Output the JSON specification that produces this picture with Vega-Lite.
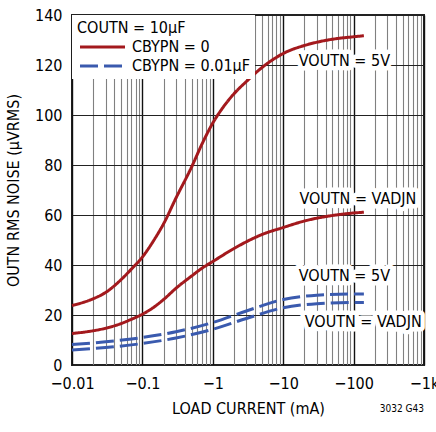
{
  "$schema": "https://vega.github.io/schema/vega-lite/v6.json",
  "width": 352,
  "height": 350,
  "autosize": {"type": "none"},
  "padding": {"left": 72, "top": 15, "right": 12, "bottom": 67},
  "background": "white",
  "config": {
    "font": "DejaVu Sans Condensed, sans-serif",
    "view": {"stroke": "#222", "strokeWidth": 2}
  },
  "title": {"text": "3032 G43", "orient": "bottom", "anchor": "end", "frame": "group", "fontSize": 10, "fontWeight": "normal", "color": "black", "offset": -12},
  "datasets": {
    "curves": [
      {"series": "5V-0", "bypass": "CBYPN = 0", "current": -0.01, "noise": 23.8},
      {"series": "5V-0", "bypass": "CBYPN = 0", "current": -0.02, "noise": 26.5},
      {"series": "5V-0", "bypass": "CBYPN = 0", "current": -0.03, "noise": 29},
      {"series": "5V-0", "bypass": "CBYPN = 0", "current": -0.05, "noise": 34.2},
      {"series": "5V-0", "bypass": "CBYPN = 0", "current": -0.07, "noise": 38.4},
      {"series": "5V-0", "bypass": "CBYPN = 0", "current": -0.1, "noise": 43.2},
      {"series": "5V-0", "bypass": "CBYPN = 0", "current": -0.15, "noise": 50.5},
      {"series": "5V-0", "bypass": "CBYPN = 0", "current": -0.2, "noise": 56.5},
      {"series": "5V-0", "bypass": "CBYPN = 0", "current": -0.3, "noise": 66.8},
      {"series": "5V-0", "bypass": "CBYPN = 0", "current": -0.5, "noise": 79.2},
      {"series": "5V-0", "bypass": "CBYPN = 0", "current": -0.7, "noise": 88.3},
      {"series": "5V-0", "bypass": "CBYPN = 0", "current": -1, "noise": 96.8},
      {"series": "5V-0", "bypass": "CBYPN = 0", "current": -1.3, "noise": 101.8},
      {"series": "5V-0", "bypass": "CBYPN = 0", "current": -2, "noise": 108.5},
      {"series": "5V-0", "bypass": "CBYPN = 0", "current": -3, "noise": 113.4},
      {"series": "5V-0", "bypass": "CBYPN = 0", "current": -5, "noise": 119},
      {"series": "5V-0", "bypass": "CBYPN = 0", "current": -7, "noise": 122},
      {"series": "5V-0", "bypass": "CBYPN = 0", "current": -10, "noise": 124.6},
      {"series": "5V-0", "bypass": "CBYPN = 0", "current": -20, "noise": 127.8},
      {"series": "5V-0", "bypass": "CBYPN = 0", "current": -30, "noise": 129.1},
      {"series": "5V-0", "bypass": "CBYPN = 0", "current": -50, "noise": 130.3},
      {"series": "5V-0", "bypass": "CBYPN = 0", "current": -100, "noise": 131.3},
      {"series": "5V-0", "bypass": "CBYPN = 0", "current": -140, "noise": 131.7},
      {"series": "ADJ-0", "bypass": "CBYPN = 0", "current": -0.01, "noise": 12.6},
      {"series": "ADJ-0", "bypass": "CBYPN = 0", "current": -0.02, "noise": 13.7},
      {"series": "ADJ-0", "bypass": "CBYPN = 0", "current": -0.03, "noise": 14.7},
      {"series": "ADJ-0", "bypass": "CBYPN = 0", "current": -0.05, "noise": 16.6},
      {"series": "ADJ-0", "bypass": "CBYPN = 0", "current": -0.07, "noise": 18.3},
      {"series": "ADJ-0", "bypass": "CBYPN = 0", "current": -0.1, "noise": 20.3},
      {"series": "ADJ-0", "bypass": "CBYPN = 0", "current": -0.15, "noise": 23.4},
      {"series": "ADJ-0", "bypass": "CBYPN = 0", "current": -0.2, "noise": 26.2},
      {"series": "ADJ-0", "bypass": "CBYPN = 0", "current": -0.3, "noise": 30.7},
      {"series": "ADJ-0", "bypass": "CBYPN = 0", "current": -0.5, "noise": 35.6},
      {"series": "ADJ-0", "bypass": "CBYPN = 0", "current": -0.7, "noise": 38.7},
      {"series": "ADJ-0", "bypass": "CBYPN = 0", "current": -1, "noise": 41.4},
      {"series": "ADJ-0", "bypass": "CBYPN = 0", "current": -2, "noise": 46.6},
      {"series": "ADJ-0", "bypass": "CBYPN = 0", "current": -3, "noise": 49.3},
      {"series": "ADJ-0", "bypass": "CBYPN = 0", "current": -5, "noise": 52.2},
      {"series": "ADJ-0", "bypass": "CBYPN = 0", "current": -10, "noise": 55},
      {"series": "ADJ-0", "bypass": "CBYPN = 0", "current": -20, "noise": 57.6},
      {"series": "ADJ-0", "bypass": "CBYPN = 0", "current": -50, "noise": 59.8},
      {"series": "ADJ-0", "bypass": "CBYPN = 0", "current": -100, "noise": 60.8},
      {"series": "ADJ-0", "bypass": "CBYPN = 0", "current": -140, "noise": 61.1},
      {"series": "5V-B", "bypass": "CBYPN = 0.01µF", "current": -0.01, "noise": 8.2},
      {"series": "5V-B", "bypass": "CBYPN = 0.01µF", "current": -0.03, "noise": 9.3},
      {"series": "5V-B", "bypass": "CBYPN = 0.01µF", "current": -0.1, "noise": 11},
      {"series": "5V-B", "bypass": "CBYPN = 0.01µF", "current": -0.3, "noise": 13.3},
      {"series": "5V-B", "bypass": "CBYPN = 0.01µF", "current": -1, "noise": 17},
      {"series": "5V-B", "bypass": "CBYPN = 0.01µF", "current": -3, "noise": 21.6},
      {"series": "5V-B", "bypass": "CBYPN = 0.01µF", "current": -10, "noise": 26.2},
      {"series": "5V-B", "bypass": "CBYPN = 0.01µF", "current": -30, "noise": 27.9},
      {"series": "5V-B", "bypass": "CBYPN = 0.01µF", "current": -100, "noise": 28.4},
      {"series": "5V-B", "bypass": "CBYPN = 0.01µF", "current": -140, "noise": 28.4},
      {"series": "ADJ-B", "bypass": "CBYPN = 0.01µF", "current": -0.01, "noise": 6},
      {"series": "ADJ-B", "bypass": "CBYPN = 0.01µF", "current": -0.03, "noise": 7},
      {"series": "ADJ-B", "bypass": "CBYPN = 0.01µF", "current": -0.1, "noise": 8.6},
      {"series": "ADJ-B", "bypass": "CBYPN = 0.01µF", "current": -0.3, "noise": 10.8},
      {"series": "ADJ-B", "bypass": "CBYPN = 0.01µF", "current": -1, "noise": 14.3},
      {"series": "ADJ-B", "bypass": "CBYPN = 0.01µF", "current": -3, "noise": 18.6},
      {"series": "ADJ-B", "bypass": "CBYPN = 0.01µF", "current": -10, "noise": 22.9},
      {"series": "ADJ-B", "bypass": "CBYPN = 0.01µF", "current": -30, "noise": 24.5},
      {"series": "ADJ-B", "bypass": "CBYPN = 0.01µF", "current": -100, "noise": 25},
      {"series": "ADJ-B", "bypass": "CBYPN = 0.01µF", "current": -140, "noise": 25}
    ],
    "labels": [
      {"text": "VOUTN = 5V", "current": -74, "noise": 121.8},
      {"text": "VOUTN = VADJN", "current": -115, "noise": 66.6},
      {"text": "VOUTN = 5V", "current": -74, "noise": 35.8},
      {"text": "VOUTN = VADJN", "current": -137, "noise": 17.1}
    ]
  },
  "encoding": {
    "x": {
      "field": "current",
      "type": "quantitative",
      "scale": {"type": "log", "domain": [-0.01, -1000], "nice": false},
      "axis": {
        "title": "LOAD CURRENT (mA)",
        "values": [-0.01, -0.02, -0.03, -0.04, -0.05, -0.06, -0.07, -0.08, -0.09,
                   -0.1, -0.2, -0.3, -0.4, -0.5, -0.6, -0.7, -0.8, -0.9,
                   -1, -2, -3, -4, -5, -6, -7, -8, -9,
                   -10, -20, -30, -40, -50, -60, -70, -80, -90,
                   -100, -200, -300, -400, -500, -600, -700, -800, -900, -1000],
        "labelExpr": "abs(log(-datum.value)/LN10 - round(log(-datum.value)/LN10)) < 0.001 ? (datum.value == -1000 ? '−1k' : '−' + format(-datum.value, '')) : ''",
        "grid": true,
        "gridColor": {"condition": {"test": "abs(log(-datum.value)/LN10 - round(log(-datum.value)/LN10)) < 0.001", "value": "#111"}, "value": "#808080"},
        "gridWidth": {"condition": {"test": "abs(log(-datum.value)/LN10 - round(log(-datum.value)/LN10)) < 0.001", "value": 1.4}, "value": 1.1},
        "ticks": false,
        "domain": false,
        "labelOverlap": false,
        "labelFlush": false,
        "labelFontSize": 16,
        "labelColor": "black",
        "labelPadding": 10,
        "titleFontSize": 16,
        "titleFontWeight": "normal",
        "titleColor": "black",
        "titlePadding": 9
      }
    },
    "y": {
      "field": "noise",
      "type": "quantitative",
      "scale": {"domain": [0, 140], "nice": false},
      "axis": {
        "title": "OUTN RMS NOISE (µVRMS)",
        "values": [0, 20, 40, 60, 80, 100, 120, 140],
        "grid": true,
        "gridColor": "#222",
        "gridWidth": 1.2,
        "ticks": false,
        "domain": false,
        "labelFontSize": 16,
        "labelColor": "black",
        "labelPadding": 10,
        "titleFontSize": 16,
        "titleFontWeight": "normal",
        "titleColor": "black",
        "titlePadding": 13
      }
    }
  },
  "layer": [
    {
      "data": {"name": "curves"},
      "mark": {"type": "line", "strokeWidth": 3, "interpolate": "monotone"},
      "encoding": {
        "detail": {"field": "series"},
        "color": {
          "field": "bypass",
          "type": "nominal",
          "scale": {"domain": ["CBYPN = 0", "CBYPN = 0.01µF"], "range": ["#a3191d", "#3a5aae"]},
          "legend": {
            "title": "COUTN = 10µF",
            "orient": "top-left",
            "offset": 0,
            "padding": 5,
            "fillColor": "white",
            "titleFontSize": 16,
            "titleFontWeight": "normal",
            "titleColor": "black",
            "titlePadding": 3,
            "labelFontSize": 16,
            "labelColor": "black",
            "labelOffset": 39,
            "symbolType": "M-1,0H8",
            "symbolSize": 100,
            "symbolStrokeWidth": 3,
            "rowPadding": 3
          }
        },
        "strokeDash": {
          "field": "bypass",
          "type": "nominal",
          "scale": {"domain": ["CBYPN = 0", "CBYPN = 0.01µF"], "range": [[1, 0], [18, 6]]}
        }
      }
    },
    {
      "data": {"name": "labels"},
      "mark": {"type": "text", "fontSize": 16, "align": "center", "baseline": "middle", "fill": "white", "stroke": "white", "strokeWidth": 9, "strokeJoin": "round"},
      "encoding": {"text": {"field": "text"}}
    },
    {
      "data": {"name": "labels"},
      "mark": {"type": "text", "fontSize": 16, "align": "center", "baseline": "middle", "fill": "black"},
      "encoding": {"text": {"field": "text"}}
    }
  ]
}
